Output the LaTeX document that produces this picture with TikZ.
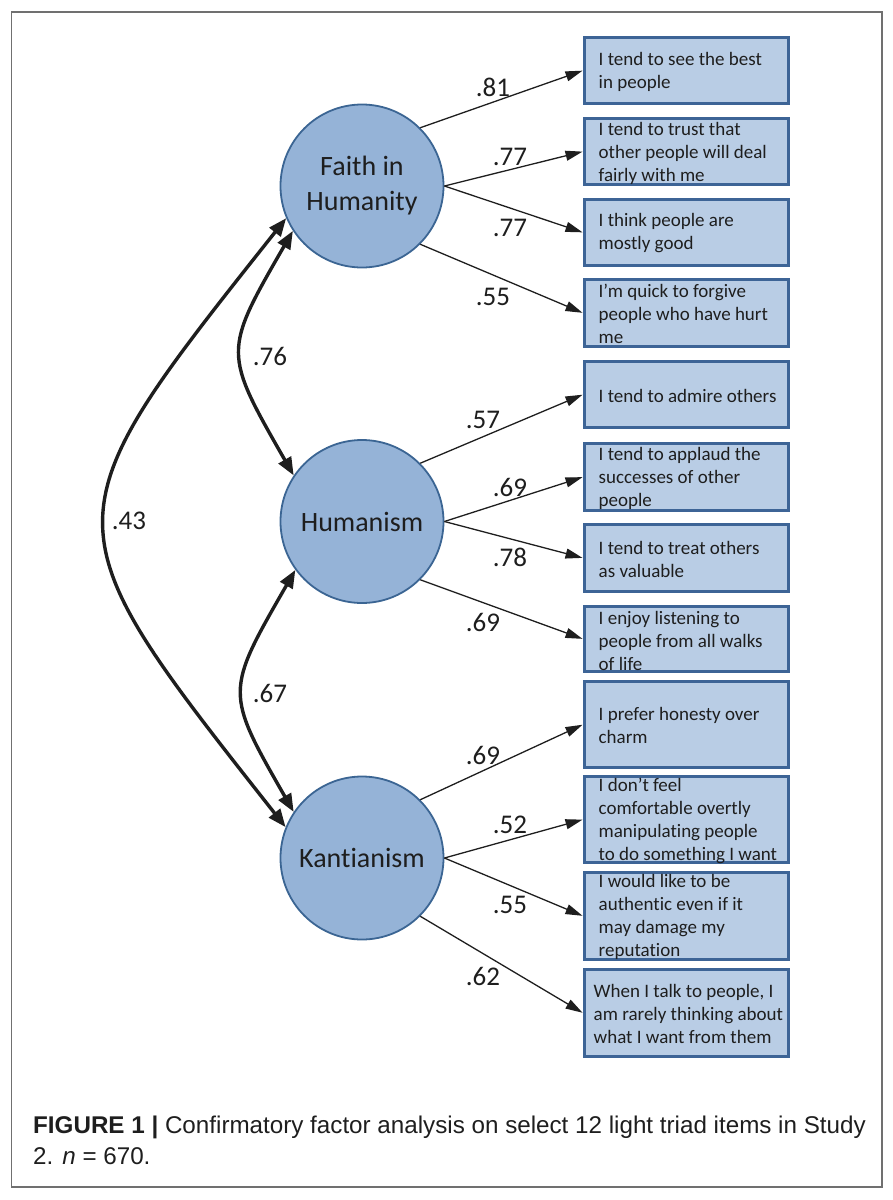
\documentclass[tikz,border=0pt]{standalone}
\usepackage{fontspec}
\setmainfont[Ligatures=NoCommon]{Carlito}
\newfontfamily\capfont{Liberation Sans}
\usetikzlibrary{arrows.meta}
\definecolor{circfill}{HTML}{95B3D7}
\definecolor{circline}{HTML}{3B6593}
\definecolor{boxfill}{HTML}{B9CDE5}
\definecolor{boxline}{HTML}{3D6496}
\definecolor{ink}{HTML}{1E1E1E}
\definecolor{framec}{HTML}{707070}
\begin{document}
\begin{tikzpicture}[x=1pt,y=-1pt,
  factor/.style={circle, draw=circline, fill=circfill, line width=1.8pt, minimum size=163pt, inner sep=0pt, align=center, text=ink, font=\fontsize{28}{35}\selectfont},
  item/.style={rectangle, draw=boxline, fill=boxfill, line width=3pt, minimum width=204pt, inner sep=0pt},
  itemtext/.style={anchor=west, inner sep=0pt, align=left, text=ink, font=\fontsize{19}{23}\selectfont},
  load/.style={draw=ink, line width=1.3pt, -{Triangle[length=17pt,width=10pt]}, shorten >=0.5pt},
  corr/.style={draw=ink, line width=3.4pt, {Triangle[length=18pt,width=14pt]}-{Triangle[length=18pt,width=14pt]}},
  coef/.style={text=ink, font=\fontsize{27}{30}\selectfont, inner sep=0pt},
  capt/.style={anchor=base west, inner sep=0pt, text=ink, font=\capfont\fontsize{24.2}{31}\selectfont}
]
\useasboundingbox (0,0) rectangle (892,1200);
\draw[framec, line width=1.5pt] (11.5,12) rectangle (882,1187);

% latent factors
\node[factor] (faith) at (362,186) {Faith in\\Humanity};
\node[factor] (hum) at (362,521.5) {Humanism};
\node[factor] (kant) at (362,858) {Kantianism};

% item boxes
\node[item, minimum height=66pt] (i1) at (686.5,70.5) {};
\node[item, minimum height=66pt] (i2) at (686.5,151.5) {};
\node[item, minimum height=66pt] (i3) at (686.5,232.5) {};
\node[item, minimum height=67pt] (i4) at (686.5,313) {};
\node[item, minimum height=66pt] (i5) at (686.5,394.5) {};
\node[item, minimum height=67pt] (i6) at (686.5,477) {};
\node[item, minimum height=67pt] (i7) at (686.5,558) {};
\node[item, minimum height=65pt] (i8) at (686.5,639) {};
\node[item, minimum height=86pt] (i9) at (686.5,724.5) {};
\node[item, minimum height=86pt] (i10) at (686.5,819.5) {};
\node[item, minimum height=87pt] (i11) at (686.5,916) {};
\node[item, minimum height=87pt] (i12) at (686.5,1013) {};

% item texts
\node[itemtext] (t1) at ([xshift=15.5pt,yshift=-1pt]i1.west) {I tend to see the best\\in people};
\node[itemtext] (t2) at ([xshift=15.5pt,yshift=-1.5pt]i2.west) {I tend to trust that\\other people will deal\\fairly with me};
\node[itemtext] (t3) at ([xshift=15.5pt,yshift=-1pt]i3.west) {I think people are\\mostly good};
\node[itemtext] (t4) at ([xshift=15.5pt,yshift=-1pt]i4.west) {I’m quick to forgive\\people who have hurt\\me};
\node[itemtext] (t5) at ([xshift=15.5pt,yshift=-1pt]i5.west) {I tend to admire others};
\node[itemtext] (t6) at ([xshift=15.5pt,yshift=-1.5pt]i6.west) {I tend to applaud the\\successes of other\\people};
\node[itemtext] (t7) at ([xshift=15.5pt,yshift=-1pt]i7.west) {I tend to treat others\\as valuable};
\node[itemtext] (t8) at ([xshift=15.5pt,yshift=-1.5pt]i8.west) {I enjoy listening to\\people from all walks\\of life};
\node[itemtext] (t9) at ([xshift=15.5pt,yshift=-1pt]i9.west) {I prefer honesty over\\charm};
\node[itemtext] (t10) at ([xshift=15.5pt,yshift=-1.5pt]i10.west) {I don’t feel\\comfortable overtly\\manipulating people\\to do something I want};
\node[itemtext] (t11) at ([xshift=15.5pt,yshift=-1pt]i11.west) {I would like to be\\authentic even if it\\may damage my\\reputation};
\node[itemtext] (t12) at ([xshift=10.5pt,yshift=-1pt]i12.west) {When I talk to people, I\\am rarely thinking about\\what I want from them};

% loadings
\draw[load] (faith.45) -- (i1.west);
\draw[load] (faith.0) -- (i2.west);
\draw[load] (faith.0) -- (i3.west);
\draw[load] (faith.-45) -- (i4.west);
\draw[load] (hum.45) -- (i5.west);
\draw[load] (hum.0) -- (i6.west);
\draw[load] (hum.0) -- (i7.west);
\draw[load] (hum.-45) -- (i8.west);
\draw[load] (kant.45) -- (i9.west);
\draw[load] (kant.0) -- (i10.west);
\draw[load] (kant.0) -- (i11.west);
\draw[load] (kant.-45) -- (i12.west);

\node[coef] (l1) at (493,87) {.81};
\node[coef] (l2) at (510,157) {.77};
\node[coef] (l3) at (510,228) {.77};
\node[coef] (l4) at (493,297) {.55};
\node[coef] (l5) at (483,420) {.57};
\node[coef] (l6) at (510,487) {.69};
\node[coef] (l7) at (510,557) {.78};
\node[coef] (l8) at (483,622) {.69};
\node[coef] (l9) at (483,755) {.69};
\node[coef] (l10) at (510,825) {.52};
\node[coef] (l11) at (510,905) {.55};
\node[coef] (l12) at (483,976) {.62};

% correlations
\draw[corr] (faith.203) .. controls (45,522) and (45,522) .. (kant.158);
\draw[corr] (faith.213) .. controls (223,352) and (223,352) .. (hum.146);
\draw[corr] (hum.216) .. controls (225,692) and (225,692) .. (kant.146);
\node[coef] (c1) at (270,356) {.76};
\node[coef] (c2) at (129,521) {.43};
\node[coef] (c3) at (270,693) {.67};

% caption
\node[capt] (cap1) at (33,1133) {\textbf{FIGURE 1 |} Confirmatory factor analysis on select 12 light triad items in Study};
\node[capt] (cap2) at (33,1164) {2. \textit{n} = 670.};
\end{tikzpicture}
\end{document}
